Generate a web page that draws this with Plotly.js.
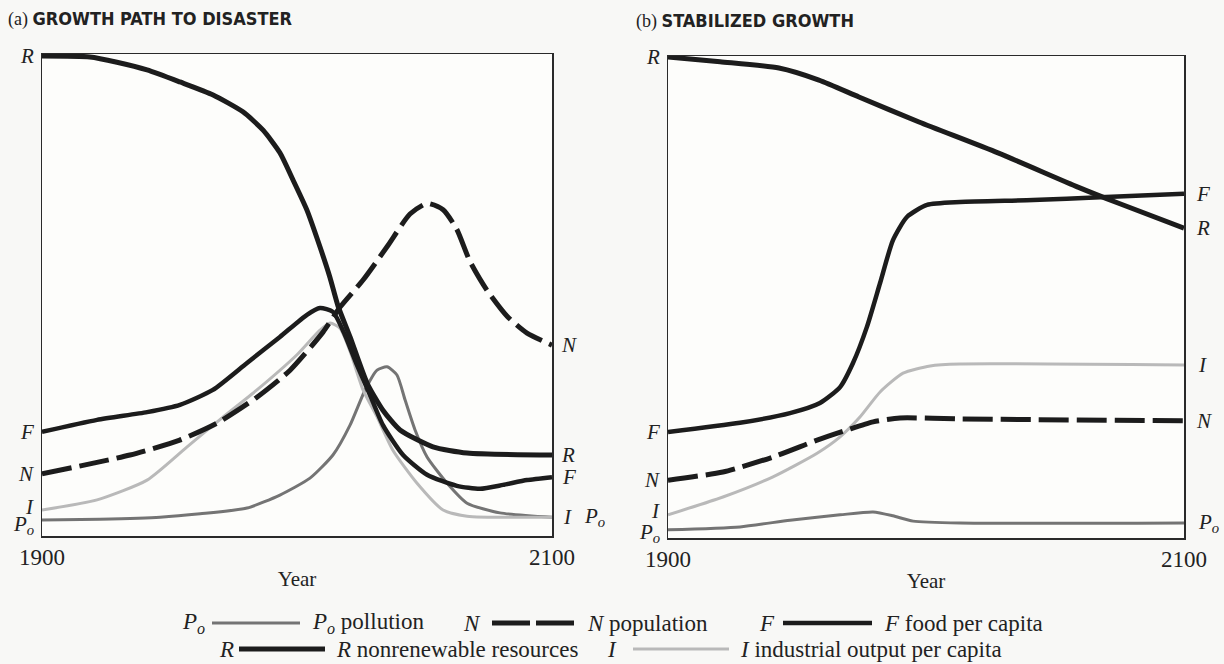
<!DOCTYPE html>
<html>
<head>
<meta charset="utf-8">
<script src="https://cdn.plot.ly/plotly-3.0.1.min.js"></script>
<style>html,body{margin:0;padding:0;background:#f8f8f6;}</style>
</head>
<body>
<div id="chart" style="width:1224px;height:664px;"></div>
<script>
// ---------- Panel (a): Growth path to disaster (relative scale 0..1) ----------
const aYearsR = [1900, 1918.8, 1929.4, 1941.2, 1954.1, 1967.1, 1978.8, 1986.7, 1993.3, 1998.4, 2003.9, 2009, 2012.9, 2016.1, 2020.8, 2027.5, 2033.7, 2040.4, 2053.3, 2066.7, 2100];
const aR      = [0.996, 0.994, 0.983, 0.967, 0.942, 0.915, 0.880, 0.842, 0.795, 0.739, 0.676, 0.600, 0.537, 0.477, 0.413, 0.317, 0.261, 0.220, 0.185, 0.172, 0.168];

const aYearsN = [1900, 1934.5, 1954, 1968.6, 1984.3, 1997.3, 2010.2, 2016.9, 2025.9, 2035.3, 2044.3, 2051, 2057.3, 2062.7, 2067.8, 2074.5, 2082.4, 2090.2, 2100];
const aN      = [0.129, 0.168, 0.199, 0.234, 0.288, 0.344, 0.423, 0.475, 0.531, 0.600, 0.668, 0.690, 0.677, 0.636, 0.570, 0.510, 0.456, 0.421, 0.396];

const aYearsF = [1900, 1921.6, 1941.2, 1954.1, 1967, 1980.4, 1993.3, 2003.9, 2009, 2014.1, 2018.8, 2023.5, 2028.6, 2033.7, 2041.6, 2051, 2062.7, 2071.8, 2080.8, 2090.2, 2100];
const aF      = [0.216, 0.241, 0.257, 0.272, 0.303, 0.359, 0.413, 0.459, 0.473, 0.465, 0.417, 0.355, 0.293, 0.230, 0.168, 0.127, 0.104, 0.098, 0.106, 0.116, 0.122];

const aYearsI = [1900, 1921.6, 1941.2, 1956.9, 1970.6, 1984.3, 2000, 2009, 2013, 2017, 2021, 2025.9, 2031.4, 2037.6, 2047, 2057.3, 2066.7, 2100];
const aI      = [0.054, 0.075, 0.116, 0.185, 0.245, 0.303, 0.376, 0.427, 0.442, 0.430, 0.380, 0.303, 0.247, 0.178, 0.110, 0.054, 0.041, 0.039];

const aYearsP = [1900, 1922.7, 1946.3, 1962, 1980.4, 1993.3, 2005.1, 2014.1, 2020.8, 2026.7, 2031.4, 2035.3, 2039.2, 2042.4, 2046.3, 2051, 2058.8, 2066.7, 2079.6, 2100];
const aP      = [0.033, 0.035, 0.039, 0.046, 0.058, 0.085, 0.120, 0.168, 0.230, 0.303, 0.344, 0.351, 0.334, 0.282, 0.220, 0.164, 0.110, 0.068, 0.048, 0.039];

// ---------- Panel (b): Stabilized growth ----------
const bYearsR = [1900, 1920.2, 1943, 1958.5, 1974, 1997.3, 2027.9, 2058.9, 2074.4, 2100];
const bR      = [0.998, 0.988, 0.975, 0.950, 0.915, 0.863, 0.799, 0.728, 0.695, 0.643];

const bYearsF = [1900, 1927.9, 1947.3, 1958.9, 1966.7, 1971.7, 1977.1, 1982.2, 1987.2, 1992.6, 2000.4, 2013.2, 2041.5, 2067.4, 2100];
const bF      = [0.220, 0.239, 0.259, 0.280, 0.313, 0.363, 0.438, 0.529, 0.618, 0.666, 0.691, 0.697, 0.701, 0.707, 0.714];

const bYearsN = [1900, 1921.3, 1940.7, 1957.8, 1969.4, 1979.5, 1989.9, 2013.2, 2100];
const bN      = [0.120, 0.137, 0.168, 0.203, 0.224, 0.241, 0.249, 0.247, 0.243];

const bYearsI = [1900, 1921.3, 1940.7, 1957.8, 1966.7, 1974.4, 1982.2, 1991.1, 2001.6, 2013.2, 2100];
const bI      = [0.048, 0.085, 0.127, 0.176, 0.210, 0.251, 0.303, 0.342, 0.357, 0.361, 0.359];

const bYearsP = [1900, 1927.9, 1947.3, 1966.7, 1979.5, 1987.2, 1995, 2013.2, 2100];
const bP      = [0.017, 0.023, 0.037, 0.048, 0.054, 0.046, 0.035, 0.031, 0.031];

// ---------- Text ----------
const panelTags = ['(a)', '(b)'];
const panelTitles = ['GROWTH PATH TO DISASTER', 'STABILIZED GROWTH'];
const xTickVals = [1900, 2100];
const xTickText = ['1900', '2100'];
const xTitle = 'Year';
const seriesLetters = {R: '<i>R</i>', F: '<i>F</i>', N: '<i>N</i>', I: '<i>I</i>', P: '<i>P<sub>o</sub></i>'};
const legendNames = {P: 'pollution', N: 'population', F: 'food per capita', R: 'nonrenewable resources', I: 'industrial output per capita'};

// ---------- Styles ----------
const styles = {
  R: {color: '#1c1c1c', width: 5, dash: 'solid'},
  F: {color: '#1c1c1c', width: 4.5, dash: 'solid'},
  N: {color: '#1c1c1c', width: 5, dash: '30px,8px'},
  I: {color: '#b9b9b9', width: 3, dash: 'solid'},
  P: {color: '#747474', width: 3, dash: 'solid'}
};
const serif = 'Liberation Serif, DejaVu Serif, serif';
const textColor = '#222';

const panels = [
  {xa: 'x', ya: 'y', series: {R: [aYearsR, aR], F: [aYearsF, aF], N: [aYearsN, aN], I: [aYearsI, aI], P: [aYearsP, aP]},
   rightShift: {R: 7, F: 8, N: 7, I: 9, P: 30}, leftY: {I: 3, P: -5}},
  {xa: 'x2', ya: 'y2', series: {R: [bYearsR, bR], F: [bYearsF, bF], N: [bYearsN, bN], I: [bYearsI, bI], P: [bYearsP, bP]},
   rightShift: {R: 10, F: 10, N: 10, I: 12, P: 12}, leftY: {I: 4, P: -3}}
];

const order = ['P', 'I', 'N', 'F', 'R'];
const traces = [];
const annotations = [];

panels.forEach(p => {
  order.forEach(k => {
    const [xs, ys] = p.series[k];
    const st = styles[k];
    traces.push({
      type: 'scatter', mode: 'lines', x: xs, y: ys, xaxis: p.xa, yaxis: p.ya,
      name: legendNames[k], showlegend: false, hoverinfo: 'skip',
      line: {color: st.color, width: st.width, dash: st.dash, shape: 'spline', smoothing: 0.6}
    });
    annotations.push({
      xref: p.xa, yref: p.ya, x: xs[0], y: ys[0], text: seriesLetters[k], showarrow: false,
      xanchor: 'right', yanchor: 'middle', xshift: -6, yshift: p.leftY[k] || 0,
      font: {family: serif, size: 21, color: textColor}
    });
    annotations.push({
      xref: p.xa, yref: p.ya, x: xs[xs.length - 1], y: ys[ys.length - 1], text: seriesLetters[k], showarrow: false,
      xanchor: 'left', yanchor: 'middle', xshift: p.rightShift[k],
      font: {family: serif, size: 21, color: textColor}
    });
  });
});

// Panel titles
const titleSans = 'DejaVu Sans Condensed, Liberation Sans Narrow, Liberation Sans, sans-serif';
function panelTitle(x, y, tag, words) {
  annotations.push({
    xref: 'paper', yref: 'paper', x: x, y: y, xanchor: 'left', yanchor: 'middle', showarrow: false,
    text: tag + ' <span style="font-family:' + titleSans + '"><b>' + words + '</b></span>',
    font: {family: serif, size: 18, color: textColor}
  });
}
panelTitle(6 / 1224, 1 - 19 / 664, panelTags[0], panelTitles[0]);
panelTitle(634 / 1224, 1 - 21 / 664, panelTags[1], panelTitles[1]);

// Legend (text + sample lines)
const shapes = [];
const legendItems = [
  {k: 'P', row: 623, letterX: 193, x0: 212, x1: 300, textX: 310},
  {k: 'N', row: 623, letterX: 472, x0: 492, x1: 575, textX: 585},
  {k: 'F', row: 623, letterX: 767, x0: 783, x1: 872, textX: 882},
  {k: 'R', row: 649, letterX: 226, x0: 239, x1: 325, textX: 334},
  {k: 'I', row: 649, letterX: 612, x0: 633, x1: 729, textX: 738}
];
legendItems.forEach(it => {
  const yy = 1 - it.row / 664;
  const st = styles[it.k];
  annotations.push({xref: 'paper', yref: 'paper', x: it.letterX / 1224, y: yy, xanchor: 'center', yanchor: 'middle',
    showarrow: false, text: seriesLetters[it.k], font: {family: serif, size: 23, color: textColor}});
  annotations.push({xref: 'paper', yref: 'paper', x: it.textX / 1224, y: yy, xanchor: 'left', yanchor: 'middle',
    showarrow: false, text: seriesLetters[it.k] + ' ' + legendNames[it.k], font: {family: serif, size: 23, color: textColor}});
  shapes.push({type: 'line', xref: 'paper', yref: 'paper', x0: it.x0 / 1224, x1: it.x1 / 1224, y0: yy, y1: yy,
    line: {color: st.color, width: st.width, dash: it.k === 'N' ? '38px,6px' : 'solid'}});
});

function xAxis(domain, anchor) {
  return {
    domain: domain, anchor: anchor, range: [1900, 2100], fixedrange: true,
    showline: true, mirror: true, linecolor: '#2a2a2a', linewidth: 1.5,
    showgrid: false, zeroline: false, ticks: '', tickvals: xTickVals, ticktext: xTickText,
    tickfont: {family: serif, size: 23, color: textColor},
    title: {text: xTitle, font: {family: serif, size: 21, color: textColor}, standoff: 2},
    automargin: false
  };
}
function yAxis(domain, anchor) {
  return {
    domain: domain, anchor: anchor, range: [0, 1], fixedrange: true,
    showline: true, mirror: true, linecolor: '#2a2a2a', linewidth: 1.5,
    showgrid: false, zeroline: false, showticklabels: false, ticks: '', automargin: false
  };
}

const layout = {
  width: 1224, height: 664,
  margin: {l: 0, r: 0, t: 0, b: 0},
  paper_bgcolor: '#f8f8f6', plot_bgcolor: '#fdfdfb',
  showlegend: false,
  xaxis: xAxis([42 / 1224, 552 / 1224], 'y'),
  yaxis: yAxis([1 - 536 / 664, 1 - 54 / 664], 'x'),
  xaxis2: xAxis([668 / 1224, 1184 / 1224], 'y2'),
  yaxis2: yAxis([1 - 538 / 664, 1 - 56 / 664], 'x2'),
  annotations: annotations,
  shapes: shapes
};

Plotly.newPlot('chart', traces, layout, {displayModeBar: false, staticPlot: true});
</script>
</body>
</html>
